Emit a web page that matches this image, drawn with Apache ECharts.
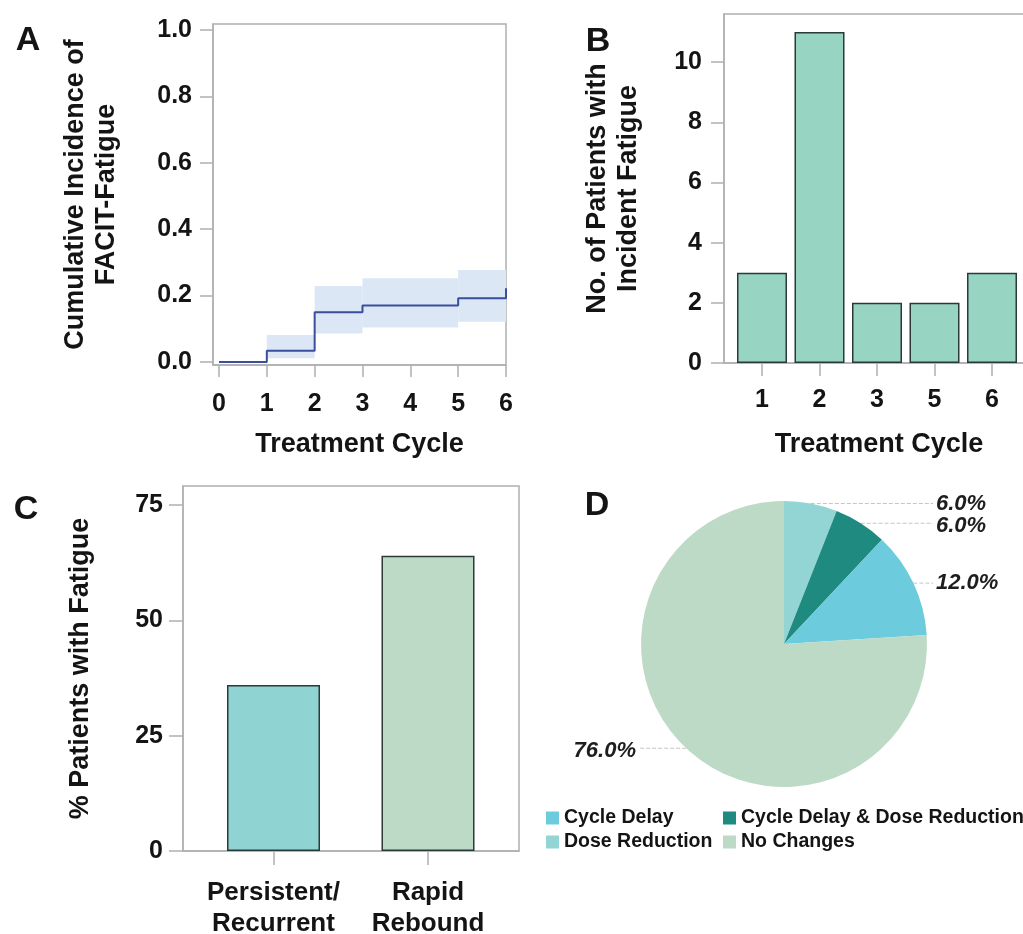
<!DOCTYPE html>
<html>
<head>
<meta charset="utf-8">
<script src="https://cdn.jsdelivr.net/npm/echarts@6/dist/echarts.min.js"></script>
<style>
html,body{margin:0;padding:0;background:#fff;}
#main{width:1023px;height:934px;}
</style>
</head>
<body>
<div id="main"></div>
<script>
// ---------- Panel A: cumulative incidence ----------
var kmTimes = [0, 1, 2, 3, 5, 6];
var kmValues = [0, 0.034, 0.150, 0.170, 0.192, 0.222];
var ciStart = [1, 2, 3, 5];
var ciEnd = [2, 3, 5, 6];
var ciLower = [0.011, 0.086, 0.104, 0.121];
var ciUpper = [0.081, 0.229, 0.252, 0.277];
var aXTicks = [0, 1, 2, 3, 4, 5, 6];
var aYTicks = [0, 0.2, 0.4, 0.6, 0.8, 1.0];

// ---------- Panel B: incident fatigue counts ----------
var bCategories = ['1', '2', '3', '5', '6'];
var bValues = [3, 11, 2, 2, 3];
var bYTicks = [0, 2, 4, 6, 8, 10];

// ---------- Panel C: % patients with fatigue ----------
var cCategories = ['Persistent/\nRecurrent', 'Rapid\nRebound'];
var cValues = [36, 64];
var cYTicks = [0, 25, 50, 75];

// ---------- Panel D: treatment changes ----------
var dNames = ['Dose Reduction', 'Cycle Delay & Dose Reduction', 'Cycle Delay', 'No Changes'];
var dValues = [6.0, 6.0, 12.0, 76.0];

var FONT = 'Liberation Sans, Arial, Helvetica, sans-serif';
var AXIS_GRAY = '#b0b0b0';
var TXT = '#141414';
var BAR_EDGE = '#2b3a38';

var PIE_CX = 784, PIE_CY = 644, PIE_R = 143;

function seq(n) { var a = []; for (var i = 1; i <= n; i++) a.push(i); return a; }

var nameStyle = {fontFamily: FONT, fontWeight: 'bold', fontSize: 27, color: TXT, lineHeight: 31};

var chart = echarts.init(document.getElementById('main'), null, {renderer: 'canvas'});

var bandData = ciStart.map(function (s, i) { return [s, ciEnd[i], ciLower[i], ciUpper[i]]; });
var kmData = kmTimes.map(function (t, i) { return [t, kmValues[i]]; });
var bPos = seq(bCategories.length);
var bData = bValues.map(function (v, i) { return [bPos[i], v]; });
var cPos = seq(cCategories.length);
var cColors = ['#8fd4d2', '#bddac7'];
var cData = cValues.map(function (v, i) { return {value: [cPos[i], v], itemStyle: {color: cColors[i]}}; });
var dColors = ['#93d4d5', '#1f8a80', '#6ccbdd', '#bddac7'];
var dData = dNames.map(function (n, i) { return {name: n, value: dValues[i], itemStyle: {color: dColors[i]}}; });

var gridBase = {show: true, borderColor: AXIS_GRAY, borderWidth: 1.5, backgroundColor: '#fff',
  containLabel: false, outerBoundsMode: 'none'};
var axLine = {show: true, onZero: false, lineStyle: {color: AXIS_GRAY, width: 1.5}};

var option = {
  animation: false,
  backgroundColor: '#fff',
  textStyle: {fontFamily: FONT},
  graphic: [
    {type: 'text', x: 28, y: 41, style: {text: 'A', font: 'bold 34px ' + FONT, fill: TXT, align: 'center', verticalAlign: 'middle'}},
    {type: 'text', x: 598, y: 42, style: {text: 'B', font: 'bold 34px ' + FONT, fill: TXT, align: 'center', verticalAlign: 'middle'}},
    {type: 'text', x: 26, y: 510, style: {text: 'C', font: 'bold 34px ' + FONT, fill: TXT, align: 'center', verticalAlign: 'middle'}},
    {type: 'text', x: 597, y: 506, style: {text: 'D', font: 'bold 34px ' + FONT, fill: TXT, align: 'center', verticalAlign: 'middle'}}
  ],
  grid: [
    Object.assign({left: 213, top: 24, width: 293, height: 341}, gridBase),
    Object.assign({left: 724, top: 14, width: 310, height: 349}, gridBase),
    Object.assign({left: 183, top: 486, width: 336, height: 365}, gridBase)
  ],
  xAxis: [
    {
      gridIndex: 0, type: 'value', min: -0.125, max: 6,
      axisLine: axLine,
      axisTick: {show: true, customValues: aXTicks, length: 12, lineStyle: {color: AXIS_GRAY, width: 1.5}},
      axisLabel: {customValues: aXTicks, margin: 27, fontFamily: FONT, fontWeight: 'bold', fontSize: 25, color: TXT},
      splitLine: {show: false},
      name: 'Treatment Cycle', nameLocation: 'middle', nameGap: 64, nameTextStyle: nameStyle
    },
    {
      gridIndex: 1, type: 'value', min: 1 - 38 / 57.5, max: 1 + (1034 - 762) / 57.5,
      axisLine: axLine,
      axisTick: {show: true, customValues: bPos, length: 13, lineStyle: {color: AXIS_GRAY, width: 1.5}},
      axisLabel: {customValues: bPos, margin: 25, fontFamily: FONT, fontWeight: 'bold', fontSize: 25, color: TXT,
        formatter: function (v) { return bCategories[Math.round(v) - 1]; }},
      splitLine: {show: false},
      name: 'Treatment Cycle', nameLocation: 'middle', nameGap: 66, nameTextStyle: nameStyle
    },
    {
      gridIndex: 2, type: 'value', min: 1 - 90.5 / 154.5, max: 2 + 91 / 154.5,
      axisLine: axLine,
      axisTick: {show: true, customValues: cPos, length: 14, lineStyle: {color: AXIS_GRAY, width: 1.5}},
      axisLabel: {customValues: cPos, margin: 26, fontFamily: FONT, fontWeight: 'bold', fontSize: 26, color: TXT, lineHeight: 31,
        formatter: function (v) { return cCategories[Math.round(v) - 1]; }},
      splitLine: {show: false}
    }
  ],
  yAxis: [
    {
      gridIndex: 0, type: 'value', min: -0.009, max: 1.018,
      axisLine: axLine,
      axisTick: {show: true, customValues: aYTicks, length: 13, lineStyle: {color: AXIS_GRAY, width: 1.5}},
      axisLabel: {customValues: aYTicks, margin: 21, fontFamily: FONT, fontWeight: 'bold', fontSize: 25, color: TXT,
        formatter: function (v) { return v.toFixed(1); }},
      splitLine: {show: false},
      name: 'Cumulative Incidence of\nFACIT-Fatigue', nameLocation: 'middle', nameGap: 91, nameRotate: 90, nameTextStyle: nameStyle
    },
    {
      gridIndex: 1, type: 'value', min: 0, max: 11.6,
      axisLine: axLine,
      axisTick: {show: true, customValues: bYTicks, length: 13, lineStyle: {color: AXIS_GRAY, width: 1.5}},
      axisLabel: {customValues: bYTicks, margin: 22, fontFamily: FONT, fontWeight: 'bold', fontSize: 25, color: TXT},
      splitLine: {show: false},
      name: 'No. of Patients with\nIncident Fatigue', nameLocation: 'middle', nameGap: 80, nameRotate: 90, nameTextStyle: nameStyle
    },
    {
      gridIndex: 2, type: 'value', min: 0, max: 79.1,
      axisLine: axLine,
      axisTick: {show: true, customValues: cYTicks, length: 14, lineStyle: {color: AXIS_GRAY, width: 1.5}},
      axisLabel: {customValues: cYTicks, margin: 20, fontFamily: FONT, fontWeight: 'bold', fontSize: 25, color: TXT},
      splitLine: {show: false},
      name: '% Patients with Fatigue', nameLocation: 'middle', nameGap: 87, nameRotate: 90, nameTextStyle: nameStyle
    }
  ],
  legend: [
    {
      orient: 'vertical', left: 546, top: 808, padding: 0, itemGap: 4, itemWidth: 13, itemHeight: 13, icon: 'rect',
      data: ['Cycle Delay', 'Dose Reduction'], selectedMode: false,
      textStyle: {fontFamily: FONT, fontWeight: 'bold', fontSize: 19.5, color: TXT}
    },
    {
      orient: 'vertical', left: 723, top: 808, padding: 0, itemGap: 4, itemWidth: 13, itemHeight: 13, icon: 'rect',
      data: ['Cycle Delay & Dose Reduction', 'No Changes'], selectedMode: false,
      textStyle: {fontFamily: FONT, fontWeight: 'bold', fontSize: 19.5, color: TXT}
    }
  ],
  series: [
    {
      type: 'custom', xAxisIndex: 0, yAxisIndex: 0, data: bandData, clip: true, z: 1,
      renderItem: function (params, api) {
        var p0 = api.coord([api.value(0), api.value(3)]);
        var p1 = api.coord([api.value(1), api.value(2)]);
        return {type: 'rect', shape: {x: p0[0], y: p0[1], width: p1[0] - p0[0], height: p1[1] - p0[1]},
          style: {fill: '#dbe7f4'}};
      }
    },
    {
      type: 'line', xAxisIndex: 0, yAxisIndex: 0, data: kmData, step: 'end', showSymbol: false, symbol: 'none', z: 3,
      lineStyle: {color: '#3a4e9e', width: 2}
    },
    {
      type: 'bar', xAxisIndex: 1, yAxisIndex: 1, data: bData, barWidth: 50,
      itemStyle: {color: '#97d4c1', borderColor: BAR_EDGE, borderWidth: 1.5}
    },
    {
      type: 'bar', xAxisIndex: 2, yAxisIndex: 2, data: cData, barWidth: 93,
      itemStyle: {borderColor: BAR_EDGE, borderWidth: 1.5}
    },
    {
      type: 'pie', center: [PIE_CX, PIE_CY], radius: PIE_R, startAngle: 90, clockwise: true,
      data: dData, emphasis: {disabled: true}, silent: true,
      itemStyle: {borderWidth: 0},
      label: {show: true, position: 'outside', fontFamily: FONT, fontWeight: 'bold', fontStyle: 'italic', fontSize: 22, color: '#1e1e1e',
        formatter: function (p) { return p.value.toFixed(1) + '%'; }},
      labelLine: {show: true, length: 0, length2: 20, lineStyle: {color: '#c4c4c4', width: 1, type: 'dashed'}},
      labelLayout: function (params) {
        var pts = params.labelLinePoints;
        if (!pts) return {};
        var p0 = pts[0];
        if (p0[0] >= PIE_CX) {
          var xe = PIE_CX + PIE_R + 6;
          return {x: xe + 3, y: p0[1], align: 'left', verticalAlign: 'middle', moveOverlap: 'shiftY',
            labelLinePoints: [[p0[0], p0[1]], [p0[0], p0[1]], [xe, p0[1]]]};
        } else {
          var xl = PIE_CX - PIE_R - 1;
          return {x: xl - 4, y: p0[1] + 3, align: 'right', verticalAlign: 'middle',
            labelLinePoints: [[p0[0], p0[1]], [p0[0], p0[1]], [xl, p0[1]]]};
        }
      }
    }
  ]
};
chart.setOption(option);
</script>
</body>
</html>
